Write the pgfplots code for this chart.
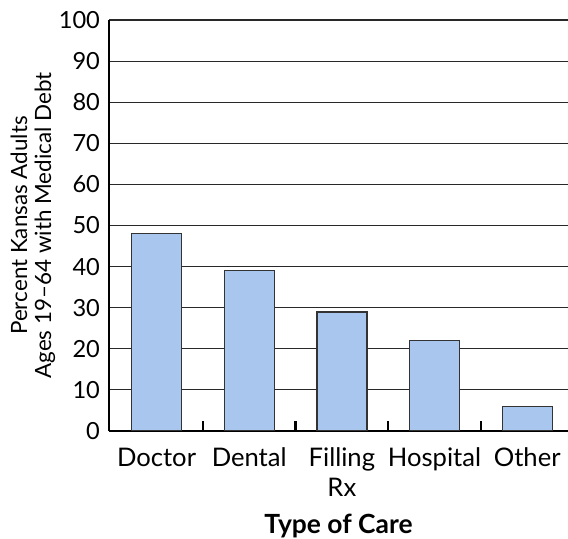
\documentclass[border=0pt]{standalone}
\usepackage{pgfplots}
\pgfplotsset{compat=1.18}
\usepackage{fontspec}
\setmainfont{Lato}
\definecolor{barblue}{RGB}{169,198,238}
\definecolor{gridgray}{RGB}{40,40,40}
\begin{document}
\begin{tikzpicture}
\begin{axis}[
  scale only axis,
  width=229.5pt, height=205.5pt,
  xmin=-0.513, xmax=4.44,
  ymin=0, ymax=100,
  ytick={0,10,...,100},
  ymajorgrids,
  grid style={line width=0.55pt, gridgray},
  axis x line*=bottom, axis y line*=left,
  axis line style={line width=1.1pt, -},
  tick align=inside,
  ytick style={draw=none},
  major x tick style={draw=none},
  xtick={0,1,2,3,4},
  xticklabels={Doctor,Dental,Filling\\Rx,Hospital,Other},
  minor xtick={0.5,1.5,2.5,3.5},
  minor tick length=5pt,
  minor x tick style={line width=1.1pt, black},
  /pgf/number format/assume math mode=true,
  yticklabel style={font=\fontsize{11.8}{12}\selectfont, xshift=-1pt},
  xticklabel style={font=\fontsize{12.8}{15}\selectfont, align=center, yshift=-5pt},
  ylabel={Percent Kansas Adults\\Ages 19–64 with Medical Debt},
  ylabel style={font=\fontsize{11.2}{12}\selectfont, align=center, yshift=-5pt},
  xlabel={Type of Care},
  xlabel style={font=\fontsize{13.2}{14}\selectfont\bfseries, yshift=-1.5pt},
]
\addplot[ybar, bar width=25pt, fill=barblue, draw=black!80, line width=0.7pt]
  coordinates {(0,48) (1,39) (2,29) (3,22) (4,6)};
\end{axis}
\pgfresetboundingbox
\path (-54.5pt,-54pt) rectangle (229.5pt,215.5pt);
\end{tikzpicture}
\end{document}
